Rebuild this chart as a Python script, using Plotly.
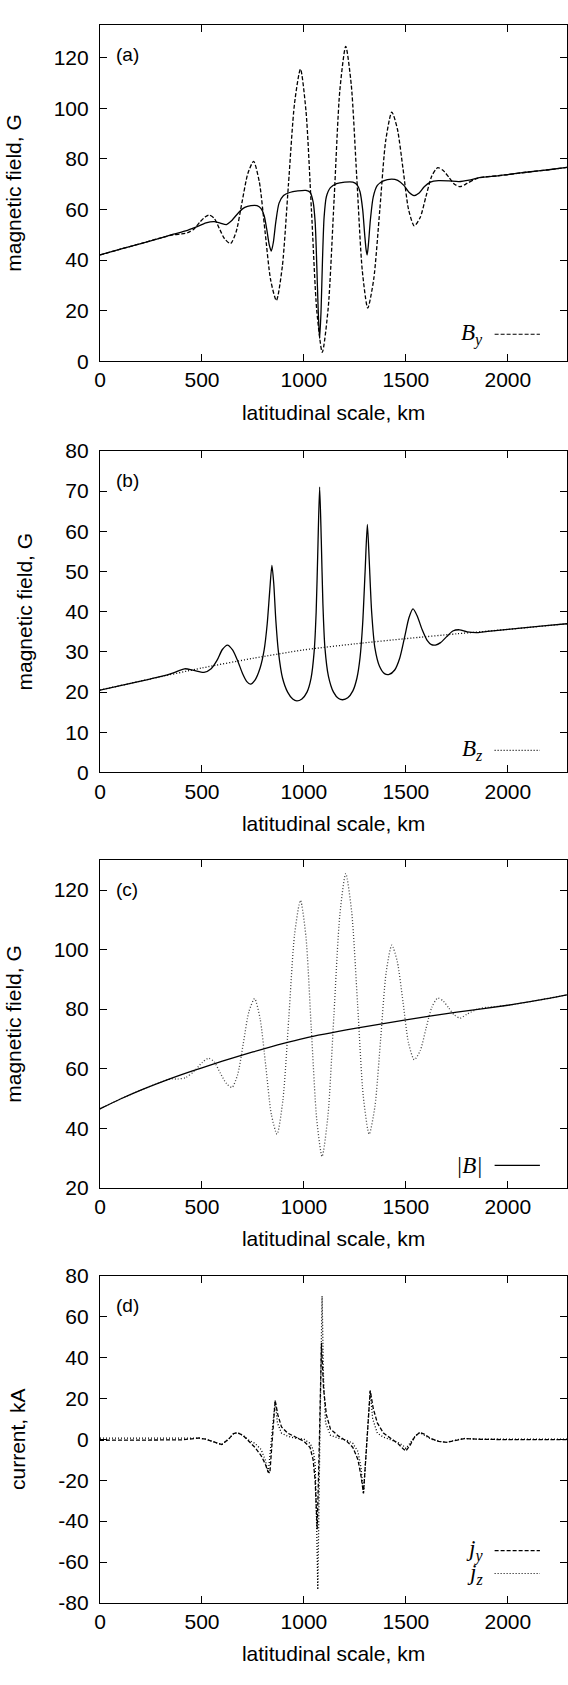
import plotly.graph_objects as go
from plotly.subplots import make_subplots

# ---- panel (a): B_y (dashed) and total field (solid), G ----
km_by_a = [0, 100, 200, 300, 360, 400, 430, 460, 490, 515, 535, 560, 585, 610, 640,
           668, 696, 725, 753, 781, 809, 837, 865, 894, 924, 954, 983, 1010, 1037, 1063, 1090,
           1119, 1148, 1176, 1205, 1232, 1259, 1286, 1313, 1342, 1372, 1401, 1431, 1458, 1486,
           1513, 1541, 1570, 1598, 1627, 1656, 1683, 1711, 1738, 1766, 1800, 1840, 1880, 1950,
           2000, 2100, 2200, 2290]
by_a = [42, 44.3, 46.5, 48.8, 50, 50.3, 50.8, 52.2, 55, 57, 57.8, 56.5, 52.5, 48.5, 46.5,
        51.3, 62.7, 74.2, 79, 71, 51.5, 32, 24, 37.4, 69.8, 102, 115.5, 99, 59.5, 20, 3.5,
        21, 64, 107, 124.5, 109.4, 72.8, 36, 21, 32.3, 59.8, 87.2, 98.5, 91.9, 76,
        60, 53.5, 56.8, 65, 73.2, 76.5, 75.4, 72.7, 70, 69, 70.3, 72, 72.8, 73.3,
        73.8, 74.8, 75.7, 76.6]

km_b_a = [0, 100, 200, 300, 360, 420, 470, 520, 560, 590, 620, 645, 680, 710, 740, 770, 790,
          805, 818, 830, 840, 850, 862, 878, 900, 930, 970, 1010, 1030, 1045, 1055, 1063, 1070,
          1077, 1084, 1091, 1099, 1110, 1130, 1160, 1200, 1240, 1260, 1275, 1288, 1298, 1305,
          1310, 1316, 1326, 1340, 1360, 1390, 1430, 1460, 1490, 1515, 1540, 1565, 1590, 1620,
          1660, 1710, 1760, 1810, 1860, 1950, 2000, 2100, 2200, 2290]
b_a = [42, 44.3, 46.5, 48.8, 50.2, 51.5, 53, 54.7, 55.2, 54.6, 54, 55.5, 58.8, 60.8, 61.5, 61.5, 60.3,
       57.5, 52, 46, 43.5, 47, 55, 62.5, 65.5, 66.7, 67.3, 67.5, 66.8, 63, 55, 38, 20,
       9, 20, 40, 57, 65, 68.6, 70.2, 70.8, 70.8, 69.8, 67, 60, 50, 44,
       42, 46, 56, 65, 69.5, 71.3, 72, 71.5, 69.5, 66.8, 65.5, 66.5, 69, 70.8,
       71.4, 71.3, 71, 71.6, 72.6, 73.3, 73.8, 74.8, 75.7, 76.6]

# ---- panel (b): B_z (dotted) and perturbed component (solid), G ----
km_bz_b = [0, 250, 500, 750, 1000, 1250, 1500, 1750, 2000, 2290]
bz_b = [20.5, 23.3, 26.0, 28.4, 30.5, 32.0, 33.3, 34.5, 35.6, 37.0]

km_s_b = [0, 100, 200, 300, 360, 415, 460, 510, 545, 575, 600, 625, 650, 675, 700, 720, 738, 760,
          785, 805, 820, 832, 843, 852, 862, 875, 895, 920, 945, 965, 990, 1015, 1035, 1050,
          1060, 1068, 1077, 1085, 1093, 1103, 1120, 1145, 1170, 1190, 1215, 1240, 1260, 1275,
          1288, 1300, 1311, 1320, 1332, 1348, 1370, 1395, 1418, 1445, 1470, 1495, 1515, 1535,
          1555, 1580, 1605, 1625, 1645, 1670, 1700, 1730, 1763, 1800, 1850, 1900, 2000, 2100,
          2200, 2290]
s_b = [20.5, 21.6, 22.7, 23.9, 24.8, 25.8, 25.4, 24.9, 25.8, 28, 30.6, 31.7, 30.5, 27.8, 24.5, 22.6, 22, 23,
       26, 30.5, 37, 45, 51.5, 47, 38, 30, 23.5, 20, 18.3, 17.8, 18.3, 20, 23.5, 30,
       40, 55, 71, 58, 42, 31, 24, 20, 18.4, 18.1, 18.6, 20.3, 23.5, 28.5,
       37, 50, 61.7, 53, 40, 31, 26.5, 24.6, 24.4, 25.5, 28.5, 34, 38.5, 40.7,
       39, 35.5, 32.8, 31.8, 31.7, 32.3, 33.8, 35.2, 35.5, 35, 34.8, 35.1, 35.6, 36.1,
       36.6, 37]

# ---- panel (c): |B| (solid) and oscillating field (dotted), G ----
km_abs_c = [0, 100, 200, 300, 400, 500, 600, 750, 900, 1000, 1250, 1500, 1750, 2000, 2150, 2290]
abs_c = [46.5, 49.8, 52.8, 55.5, 58, 60.3, 62.5, 65.6, 68.5, 70.2, 73.5, 76.4, 79, 81.3, 83, 84.8]

km_d_c = [0, 100, 200, 300, 350, 380, 420, 460, 500, 533, 560, 590, 620, 647,
          675, 703, 730, 758, 785, 813, 840, 868, 897, 926, 954, 983, 1010, 1036, 1063, 1089,
          1118, 1147, 1176, 1205, 1234, 1263, 1291, 1320, 1348, 1376, 1403, 1431, 1458, 1486,
          1513, 1541, 1570, 1598, 1627, 1656, 1683, 1711, 1738, 1766, 1800, 1850, 1900, 2000,
          2150, 2290]
d_c = [46.5, 49.8, 52.8, 55.5, 56.6, 56.5, 57, 59, 62, 63.5, 62.3, 58.5, 55, 53.7,
       58, 68.6, 79.1, 83.5, 76.8, 60.8, 44.7, 38, 49.5, 77.3, 105, 116.5, 104.2, 73.5, 42.8, 30.5,
       44.4, 78, 111.6, 125.5, 112.7, 81.8, 50.8, 38, 47.3, 69.8, 92.2, 101.5, 95.9, 82.3,
       68.6, 63, 66, 73.3, 80.6, 83.7, 82.7, 80.3, 78, 77, 78.3, 80, 80.6, 81.3,
       83, 84.8]

# ---- panel (d): currents j_y (dashed) and j_z (dotted), kA ----
km_jy = [0, 200, 400, 450, 485, 520, 560, 597, 630, 655, 673, 700, 730, 760, 790, 810, 825, 833,
         845, 859, 872, 890, 920, 960, 1000, 1030, 1045, 1055, 1065, 1076, 1086, 1096, 1110, 1130,
         1170, 1210, 1240, 1265, 1280, 1292, 1310, 1325, 1340, 1360, 1390, 1430, 1460, 1485, 1500,
         1520, 1545, 1568, 1590, 1620, 1660, 1700, 1740, 1790, 1850, 2000, 2290]
jy = [-0.5, -0.4, -0.3, 0.2, 0.6, 0, -1.5, -2.6, 0, 2.8, 3.2, 2, -1, -4, -8, -12, -16, -16.5,
      0, 19, 12, 6, 3, 1, -1, -4, -10, -20, -44, 0, 47, 25, 12, 5,
      1.5, -1, -4, -10, -18, -26.5, 0, 23.8, 15, 8, 3, 0, -2, -4.5, -5.8,
      -3, 1.5, 3.3, 2.5, 0.5, -1, -1.5, -0.5, 0.4, 0, -0.2, -0.2]

km_jz = [0, 200, 400, 450, 485, 520, 560, 597, 630, 655, 673, 700, 730, 760, 790, 810, 825,
         840, 859, 870, 890, 920, 960, 1000, 1030, 1045, 1055, 1062, 1068, 1078, 1089, 1096, 1106,
         1130, 1170, 1210, 1240, 1265, 1280, 1292, 1310, 1325, 1337, 1360, 1390, 1430, 1460, 1485,
         1500, 1520, 1545, 1568, 1590, 1620, 1660, 1700, 1740, 1790, 1850, 2000, 2290]
jz = [0.5, 0.4, 0.3, 0.5, 0.6, 0, -1.5, -2.6, 0, 2.8, 3.2, 2, -0.5, -2, -5, -10, -16.5,
      0, 19, 8, 3, 1.5, 0.5, 0, -2, -5, -12, -40, -73.5, 0, 70, 30, 8,
      2, 0.5, -0.5, -2, -6, -14, -26.5, 0, 23.8, 10, 3, 1, -0.5, -1.5, -3,
      -4.5, -2, 1.5, 3.3, 2, 0.2, -1, -1.5, -0.5, 0.4, 0, 0.1, 0]

x_ticks = [0, 500, 1000, 1500, 2000]
d_ticks = [-80, -60, -40, -20, 0, 20, 40, 60, 80]
d_ticktext = ["-80", "-60", "-40", "-20", "0", "20", "40", "60", "80"]

W, H = 568, 1685
# pixel top/bottom of each panel's frame
panels = [(13, 354), (445, 771), (860, 1192), (1281, 1613)]

DASH = "4px,2px"
DOT = "1px,2px"
FONT = "Liberation Sans, Arial, sans-serif"
SERIF = "Liberation Serif, Times New Roman, serif"
FS = 21

fig = make_subplots(rows=4, cols=1)

def line(x, y, dash, color="black", shape="spline"):
    return go.Scatter(x=x, y=y, mode="lines", showlegend=False,
                      line=dict(color=color, width=1.3, dash=dash, shape=shape, smoothing=0.7))

fig.add_trace(line(km_b_a, b_a, "solid"), row=1, col=1)
fig.add_trace(line(km_by_a, by_a, DASH), row=1, col=1)
fig.add_trace(line(km_bz_b, bz_b, DOT), row=2, col=1)
fig.add_trace(line(km_s_b, s_b, "solid"), row=2, col=1)
fig.add_trace(line(km_d_c, d_c, DOT, color="#444"), row=3, col=1)
fig.add_trace(line(km_abs_c, abs_c, "solid"), row=3, col=1)
fig.add_trace(line(km_jz, jz, DOT, shape="linear"), row=4, col=1)
fig.add_trace(line(km_jy, jy, DASH, shape="linear"), row=4, col=1)

axis_common = dict(showline=True, linecolor="black", linewidth=1.2, mirror="ticks",
                   ticks="inside", ticklen=7, tickcolor="black", tickwidth=1,
                   showgrid=False, zeroline=False,
                   tickfont=dict(family=FONT, size=FS, color="black"),
                   title_font=dict(family=FONT, size=FS, color="black"))

yranges = [[0, 133], [0, 80], [20, 130], [-80, 80]]
ydticks = [20, 10, 20, 20]
ytitles = ["magnetic field, G", "magnetic field, G", "magnetic field, G", "current, kA"]
labels = ["(a)", "(b)", "(c)", "(d)"]

for i, (top, bot) in enumerate(panels):
    n = "" if i == 0 else str(i + 1)
    dom = [1 - bot / H, 1 - top / H]
    fig.update_layout(**{
        f"xaxis{n}": dict(axis_common, range=[0, 2290], tickvals=x_ticks,
                          title=dict(text="latitudinal scale, km", standoff=14)),
        f"yaxis{n}": dict(axis_common, domain=dom, range=yranges[i], dtick=ydticks[i],
                          ticklabelstandoff=6, title=dict(text=ytitles[i], standoff=26)),
    })
    fig.add_annotation(text=labels[i], xref=f"x{n} domain", yref=f"y{n} domain",
                       x=0.03, y=1 - 30 / (bot - top), xanchor="left", yanchor="middle",
                       showarrow=False, font=dict(family=FONT, size=19, color="black"))

fig.update_yaxes(tickvals=d_ticks, ticktext=d_ticktext, row=4, col=1)

# gnuplot-style keys: label on the left, line sample on the right
keys = [("", "<i>B<sub>y</sub></i>", 0.08, DASH),
        ("2", "<i>B<sub>z</sub></i>", 0.069, DOT),
        ("3", "<i>|B|</i>", 0.068, "solid"),
        ("4", "<i>j<sub>y</sub></i>", 0.16, DASH),
        ("4", "<i>j<sub>z</sub></i>", 0.09, DOT)]
for n, txt, yk, dash in keys:
    fig.add_annotation(text=txt, xref=f"x{n} domain", yref=f"y{n} domain", x=0.825, y=yk,
                       xanchor="right", yanchor="middle", showarrow=False,
                       font=dict(family=SERIF, size=23, color="black"))
    fig.add_shape(type="line", xref=f"x{n} domain", yref=f"y{n} domain",
                  x0=0.845, x1=0.942, y0=yk, y1=yk,
                  line=dict(color="black", width=1.2, dash=dash))

fig.update_layout(width=W, height=H, margin=dict(l=100, r=1, t=0, b=0),
                  plot_bgcolor="white", paper_bgcolor="white")

# drop the browser's default 8px body margin so the figure sits at the window origin
fig.write_html("out.html", config={"displayModeBar": False},
               post_script="document.body.style.margin='0';")
